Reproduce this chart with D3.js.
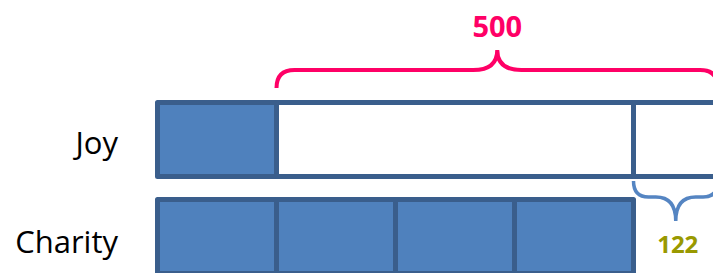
<!DOCTYPE html>
<html>
<head>
<meta charset="utf-8">
<script src="https://cdn.jsdelivr.net/npm/d3@7"></script>
<style>
  html, body { margin: 0; padding: 0; background: #fff; overflow: hidden; }
  svg { display: block; }
</style>
</head>
<body>
<svg id="chart" width="713" height="273"></svg>
<script>
// ---- data ----
const categories = ["Joy", "Charity"];
const unitCounts = [1, 4];          // shaded units per person
const extraAmounts = [500, 0];      // extra amount on top of the units
const knownTotal = 500;             // brace label above Joy
const difference = 122;             // brace label below Joy

// derived: 500 = 3 units + 122
const unitValue = (knownTotal - difference) / (unitCounts[1] - unitCounts[0]);

// build segments
const rows = categories.map((c, i) => {
  const segs = [];
  for (let k = 0; k < unitCounts[i]; k++) {
    segs.push({ start: k * unitValue, end: (k + 1) * unitValue, filled: true });
  }
  if (extraAmounts[i] > 0) {
    const s = unitCounts[i] * unitValue;
    const mid = unitCounts[1] * unitValue;
    segs.push({ start: s, end: mid, filled: false });
    segs.push({ start: mid, end: s + extraAmounts[i], filled: false });
  }
  return { name: c, segs };
});

// ---- layout ----
const svg = d3.select("#chart");
const charityTotal = unitCounts[1] * unitValue;
const joyTotal = unitCounts[0] * unitValue + extraAmounts[0];

const x = d3.scaleLinear()
  .domain([0, charityTotal, joyTotal])
  .range([157.5, 633.5, 718]);

const y = d3.scaleBand()
  .domain(categories)
  .range([102.5, 273.5])
  .paddingInner(0.237)
  .paddingOuter(0);

const fillBlue = "#4f81bd", strokeBlue = "#3a5e8c";

const g = svg.append("g");
rows.forEach(r => {
  g.selectAll(null)
    .data(r.segs)
    .join("rect")
    .attr("x", d => x(d.start))
    .attr("y", y(r.name))
    .attr("width", d => x(d.end) - x(d.start))
    .attr("height", y.bandwidth())
    .attr("fill", d => d.filled ? fillBlue : "#fff")
    .attr("stroke", strokeBlue)
    .attr("stroke-width", 5)
    .attr("stroke-linejoin", "round");
});

// category labels
svg.selectAll("text.cat")
  .data(categories)
  .join("text")
  .attr("class", "cat")
  .attr("x", 118)
  .attr("y", (d, i) => y(d) + y.bandwidth() / 2 + (i === 0 ? 14 : 17))
  .attr("text-anchor", "end")
  .attr("font-family", "'Open Sans', sans-serif")
  .attr("font-size", 31)
  .attr("fill", "#000")
  .text(d => d);

// curly brace path
function brace(x1, x2, y0, y1, y2, r, r2) {
  const xm = (x1 + x2) / 2;
  const s = Math.sign(x2 - x1);
  return `M${x1},${y0} Q${x1},${y1} ${x1 + r},${y1} L${xm - r2},${y1} Q${xm},${y1} ${xm},${y2}` +
         ` Q${xm},${y1} ${xm + r2},${y1} L${x2 - r},${y1} Q${x2},${y1} ${x2},${y0}`;
}

// 500 brace over Joy's extra part
const b1x1 = x(unitCounts[0] * unitValue), b1x2 = x(joyTotal);
svg.append("path")
  .attr("d", brace(b1x1, b1x2, 88, 70, 50, 18, 24))
  .attr("fill", "none")
  .attr("stroke", "#ff0066")
  .attr("stroke-width", 4);
svg.append("text")
  .attr("x", (b1x1 + b1x2) / 2)
  .attr("y", 37)
  .attr("text-anchor", "middle")
  .attr("font-family", "'Open Sans', sans-serif")
  .attr("font-weight", "bold")
  .attr("font-size", 29)
  .attr("fill", "#ff0066")
  .text(knownTotal);

// 122 brace under Joy's difference part
const b2x1 = x(charityTotal), b2x2 = x(joyTotal);
svg.append("path")
  .attr("d", brace(b2x1, b2x2, 181, 197, 221, 15, 20))
  .attr("fill", "none")
  .attr("stroke", "#5585c2")
  .attr("stroke-width", 3.5);
svg.append("text")
  .attr("x", (b2x1 + b2x2) / 2 + 2)
  .attr("y", 253)
  .attr("text-anchor", "middle")
  .attr("font-family", "'Open Sans', sans-serif")
  .attr("font-weight", "bold")
  .attr("font-size", 24)
  .attr("fill", "#999900")
  .text(difference);
</script>
</body>
</html>
